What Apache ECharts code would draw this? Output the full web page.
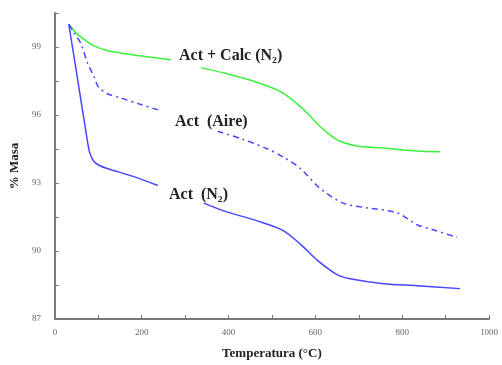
<!DOCTYPE html>
<html>
<head>
<meta charset="utf-8">
<script src="https://cdn.jsdelivr.net/npm/echarts@6/dist/echarts.min.js"></script>
<style>
  html, body { margin: 0; padding: 0; background: #fff; }
  #chart { width: 502px; height: 365px; }
</style>
</head>
<body>
<div id="chart"></div>
<script>
// datos: [temperatura, % masa], null = hueco bajo la etiqueta
const actCalcN2 = [
  [32, 100.0], [50, 99.6], [70, 99.3], [90, 99.05], [120, 98.85], [152, 98.74],
  [200, 98.6], [267, 98.44], null,
  [336, 98.09], [400, 97.8], [451, 97.53], [500, 97.2], [526, 96.96], [566, 96.36],
  [589, 95.93], [611, 95.49], [635, 95.1], [657, 94.84], [696, 94.63], [757, 94.54],
  [834, 94.41], [887, 94.38]
];
const actAire = [
  [32, 100.0], [45, 99.6], [60, 99.15], [75, 98.3], [90, 97.7], [100, 97.25],
  [120, 96.95], [152, 96.75], [200, 96.45], [237, 96.23], null,
  [375, 95.28], [430, 94.95], [490, 94.5], [530, 94.1], [566, 93.63], [611, 92.76],
  [664, 92.11], [720, 91.9], [789, 91.68], [834, 91.16], [871, 90.94], [926, 90.6]
];
const actN2 = [
  [32, 100.0], [45, 98.45], [60, 96.65], [72, 95.2], [80, 94.35], [90, 93.95],
  [105, 93.75], [122, 93.63], [182, 93.28], [237, 92.89], null,
  [343, 92.11], [389, 91.77], [466, 91.33], [526, 90.9], [566, 90.29], [604, 89.6],
  [651, 88.95], [680, 88.78], [757, 88.56], [834, 88.47], [933, 88.34]
];
const xLabels = [0, 200, 400, 600, 800, 1000];
const yLabels = [87, 90, 93, 96, 99];

const chart = echarts.init(document.getElementById("chart"));
const axisGray = "#7a7a7a";
const serif = "Liberation Serif";

chart.setOption({
  backgroundColor: "#fff",
  animation: false,
  grid: { left: 54, right: 13, top: 13, bottom: 42 },
  xAxis: {
    type: "value",
    min: 0,
    max: 1000,
    interval: 100,
    name: "Temperatura (°C)",
    nameLocation: "middle",
    nameGap: 28,
    nameTextStyle: { fontFamily: serif, fontSize: 13, fontWeight: "bold", color: "#222" },
    axisLine: { lineStyle: { color: axisGray, width: 2 } },
    axisTick: { inside: true, length: 4, lineStyle: { color: axisGray } },
    splitLine: { show: false },
    axisLabel: {
      margin: 9,
      fontFamily: serif,
      fontSize: 9,
      color: "#666",
      formatter: (v) => (xLabels.includes(v) ? String(v) : "")
    }
  },
  yAxis: {
    type: "value",
    min: 87,
    max: 100.5,
    interval: 1.5,
    name: "% Masa",
    nameLocation: "middle",
    nameGap: 30,
    nameTextStyle: { fontFamily: serif, fontSize: 13, fontWeight: "bold", color: "#222" },
    axisLine: { show: true, lineStyle: { color: axisGray, width: 2 } },
    axisTick: { show: true, inside: true, length: 4, lineStyle: { color: axisGray } },
    splitLine: { show: false },
    axisLabel: {
      margin: 14,
      fontFamily: serif,
      fontSize: 9,
      color: "#666",
      formatter: (v) => (yLabels.includes(v) ? String(v) : "")
    }
  },
  series: [
    {
      name: "Act + Calc (N2)",
      type: "line",
      data: actCalcN2,
      showSymbol: false,
      smooth: 0.3,
      connectNulls: false,
      lineStyle: { color: "#3ef03e", width: 1.5 }
    },
    {
      name: "Act (Aire)",
      type: "line",
      data: actAire,
      showSymbol: false,
      smooth: 0.3,
      connectNulls: false,
      lineStyle: { color: "#4646ff", width: 1.5, type: [6, 4, 2, 4] }
    },
    {
      name: "Act (N2)",
      type: "line",
      data: actN2,
      showSymbol: false,
      smooth: 0.3,
      connectNulls: false,
      lineStyle: { color: "#4646ff", width: 1.5 }
    }
  ],
  graphic: [
    {
      type: "text", left: 179, top: 48,
      style: { text: "Act + Calc (N₂)", font: "bold 16px " + serif, fill: "#222" }
    },
    {
      type: "text", left: 175, top: 114,
      style: { text: "Act  (Aire)", font: "bold 16px " + serif, fill: "#222" }
    },
    {
      type: "text", left: 169, top: 187,
      style: { text: "Act  (N₂)", font: "bold 16px " + serif, fill: "#222" }
    }
  ]
});
</script>
</body>
</html>
